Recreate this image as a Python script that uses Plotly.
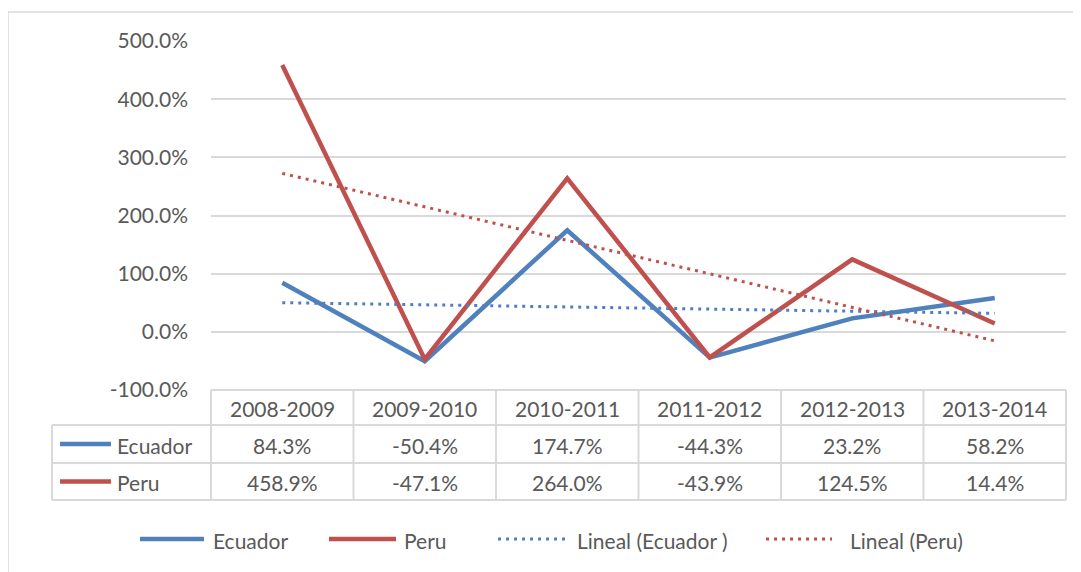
import numpy as np
import plotly.graph_objects as go

categories = ["2008-2009", "2009-2010", "2010-2011", "2011-2012", "2012-2013", "2013-2014"]
ecuador = [84.3, -50.4, 174.7, -44.3, 23.2, 58.2]
peru = [458.9, -47.1, 264.0, -43.9, 124.5, 14.4]
series_names = ["Ecuador", "Peru"]
trend_names = ["Lineal (Ecuador )", "Lineal (Peru)"]
y_ticks = [-100, 0, 100, 200, 300, 400, 500]

W, H = 1081, 572
OFF = 8  # page offset of the figure in the screenshot
BLUE = "#4F81BD"
RED = "#C0504D"
GRID = "#D9D9D9"
TXT = "#595959"
FONT = "Lato"
FS = 21

# plot area in screen pixels
PX0, PX1 = 211, 1066
PY_TOP, PY_BOT = 41, 390

def px(x):
    return (x - OFF) / W

def py(y):
    return 1 - (y - OFF) / H

xi = np.arange(1, len(categories) + 1)

def trend(vals):
    m, b = np.polyfit(xi, np.array(vals), 1)
    return list(m * xi + b)

DOT = "3px,5px"

fig = go.Figure()
fig.add_trace(go.Scatter(x=categories, y=ecuador, mode="lines",
                         line=dict(color=BLUE, width=4.5), showlegend=False))
fig.add_trace(go.Scatter(x=categories, y=peru, mode="lines",
                         line=dict(color=RED, width=4.5), showlegend=False))
fig.add_trace(go.Scatter(x=categories, y=trend(ecuador), mode="lines",
                         line=dict(color=BLUE, width=3, dash=DOT), showlegend=False))
fig.add_trace(go.Scatter(x=categories, y=trend(peru), mode="lines",
                         line=dict(color=RED, width=3, dash=DOT), showlegend=False))

shapes = []
annotations = []

# outer chart border
shapes.append(dict(type="rect", xref="paper", yref="paper",
                   x0=px(8), x1=px(1100), y0=py(12), y1=py(600),
                   line=dict(color=GRID, width=1.5), fillcolor="rgba(0,0,0,0)", layer="below"))

# data table
row_y = [390, 425, 463, 500]
col_w = (PX1 - PX0) / len(categories)
LX0 = 52
line_style = dict(color=GRID, width=2)
shapes.append(dict(type="line", xref="paper", yref="paper", x0=px(PX0), x1=px(PX1),
                   y0=py(row_y[0]), y1=py(row_y[0]), line=line_style))
for yy in row_y[1:]:
    shapes.append(dict(type="line", xref="paper", yref="paper", x0=px(LX0), x1=px(PX1),
                       y0=py(yy), y1=py(yy), line=line_style))
for i in range(len(categories) + 1):
    xx = PX0 + i * col_w
    shapes.append(dict(type="line", xref="paper", yref="paper", x0=px(xx), x1=px(xx),
                       y0=py(row_y[0]), y1=py(row_y[3]), line=line_style))
shapes.append(dict(type="line", xref="paper", yref="paper", x0=px(LX0), x1=px(LX0),
                   y0=py(row_y[1]), y1=py(row_y[3]), line=line_style))

def fmt(v):
    return f"{v:.1f}%"

def txt(x, y, s, xanchor="center"):
    return dict(x=x, y=y, xref="paper", yref="paper", text=s, showarrow=False,
                xanchor=xanchor, yanchor="middle",
                font=dict(size=FS, color=TXT, family=FONT))

for i, c in enumerate(categories):
    cx = PX0 + (i + 0.5) * col_w
    annotations.append(txt(px(cx), py((row_y[0] + row_y[1]) / 2 + 1), c))
    for r, vals in enumerate([ecuador, peru]):
        annotations.append(txt(px(cx), py((row_y[r + 1] + row_y[r + 2]) / 2 + 1), fmt(vals[i])))

for r, (name, col) in enumerate(zip(series_names, [BLUE, RED])):
    yc = (row_y[r + 1] + row_y[r + 2]) / 2
    shapes.append(dict(type="line", xref="paper", yref="paper", x0=px(60), x1=px(111),
                       y0=py(yc), y1=py(yc), line=dict(color=col, width=4.5)))
    annotations.append(txt(px(115), py(yc + 1), name, "left"))

# bottom legend
LY = 539
legend_items = [
    (140, 204, BLUE, "solid", 4.5, series_names[0], 211),
    (329, 396, RED, "solid", 4.5, series_names[1], 402),
    (498, 570, BLUE, DOT, 3, trend_names[0], 575),
    (766, 832, RED, DOT, 3, trend_names[1], 848),
]
for x0, x1, col, dash, w, name, tx in legend_items:
    shapes.append(dict(type="line", xref="paper", yref="paper", x0=px(x0), x1=px(x1),
                       y0=py(LY), y1=py(LY), line=dict(color=col, width=w, dash=dash)))
    annotations.append(txt(px(tx), py(LY + 1), name, "left"))

fig.update_layout(
    width=W, height=H,
    margin=dict(l=0, r=0, t=0, b=0, pad=0),
    paper_bgcolor="white", plot_bgcolor="white",
    showlegend=False,
    shapes=shapes, annotations=annotations,
    xaxis=dict(domain=[px(PX0), px(PX1)], showticklabels=False, showgrid=False, automargin=False,
               zeroline=False, showline=False, range=[-0.5, len(categories) - 0.5]),
    yaxis=dict(domain=[py(PY_BOT), py(PY_TOP)], range=[-100, 500], automargin=False,
               tickvals=y_ticks, ticktext=[fmt(v) for v in y_ticks],
               showgrid=True, gridcolor=GRID, gridwidth=2, zeroline=False, showline=False,
               tickfont=dict(size=FS, color=TXT, family=FONT), ticklabelstandoff=22),
)

fig.write_html("out.html")
